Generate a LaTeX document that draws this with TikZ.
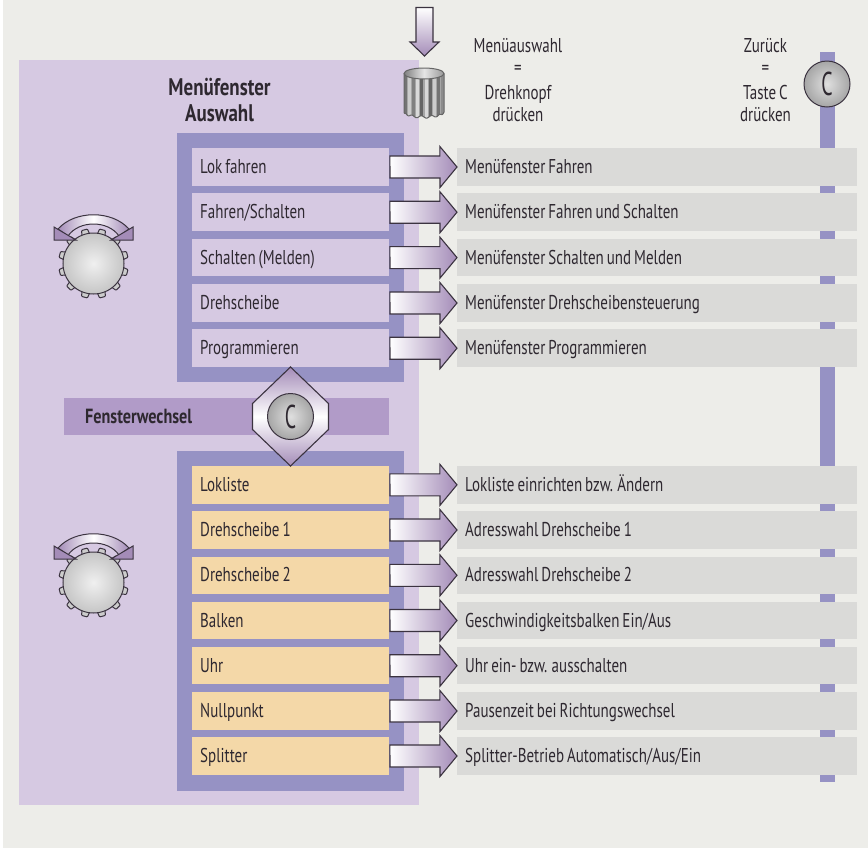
\documentclass[tikz,border=0pt]{standalone}
\usepackage{fontspec}
\setmainfont[FakeStretch=0.75,WordSpace=0.75,BoldFeatures={FakeStretch=0.79}]{PT Sans}
\newfontfamily\keyfont[FakeStretch=0.6]{PT Sans}
\usetikzlibrary{calc}
\definecolor{bgc}{HTML}{EDEDE9}
\definecolor{lilac}{HTML}{D6C9E2}
\definecolor{framec}{HTML}{9692C4}
\definecolor{orangec}{HTML}{F4D8A8}
\definecolor{greyc}{HTML}{DADAD8}
\definecolor{fwc}{HTML}{B19BC8}
\definecolor{inkc}{HTML}{2E2830}
\definecolor{linec}{HTML}{3B3340}
\definecolor{purc}{HTML}{A48CB8}
\tikzset{
  txt/.style={text=inkc,font=\fontsize{20}{22}\selectfont,inner sep=0pt},
  rowbox/.style={txt,anchor=west,inner xsep=8pt,inner ysep=0pt,align=flush left,minimum height=37.5pt,text height=15.5pt,text depth=2.5pt},
  itema/.style={rowbox,fill=lilac,text width=181pt},
  itemb/.style={rowbox,fill=orangec,text width=181pt},
  barbox/.style={rowbox,fill=greyc,text width=384pt},
  arrowbox/.style={draw=linec,line width=1.1pt,line join=miter,left color=white,right color=purc},
  keycirc/.style={circle,draw=linec,line width=1pt,minimum size=46pt,inner sep=0pt,inner color=gray!25!white,outer color=gray!70!white,text=inkc,font=\fontsize{33}{33}\keyfont},
  knobc/.style={draw=linec,line width=1pt,inner color=gray!12!white,outer color=gray!45!white},
  tooth/.style={draw=linec,line width=1pt,fill=gray!40!white,rounded corners=0.8pt},
  lbl/.style={txt,align=center,text height=15pt,text depth=2pt},
  eqlbl/.style={txt,align=center}
}
\newcommand{\rotknob}[2]{%
  \foreach \a in {15,45,...,345}{
    \draw[tooth]
      ({#1+29*cos(\a-8)},{#2-29*sin(\a-8)}) -- ({#1+35*cos(\a-5)},{#2-35*sin(\a-5)}) --
      ({#1+35*cos(\a+5)},{#2-35*sin(\a+5)}) -- ({#1+29*cos(\a+8)},{#2-29*sin(\a+8)}) -- cycle;
  }
  \draw[knobc] (#1,#2) circle[radius=30.5pt];
  \draw[line width=1pt,draw=linec,left color=purc,right color=purc,middle color=white,line join=round]
    (#1-35.5,#2-34.5) .. controls (#1-18.5,#2-53.5) and (#1+18.5,#2-53.5) .. (#1+35.5,#2-34.5)
    -- (#1+25.5,#2-27.5) .. controls (#1+14.5,#2-43.5) and (#1-14.5,#2-43.5) .. (#1-25.5,#2-27.5) -- cycle;
  \draw[line width=1pt,draw=linec,fill=purc,line join=miter]
    (#1-39.5,#2-36.5) -- (#1-39.5,#2-23.5) -- (#1-17.5,#2-23.5) -- cycle;
  \draw[line width=1pt,draw=linec,fill=purc,line join=miter]
    (#1+39.5,#2-36.5) -- (#1+39.5,#2-23.5) -- (#1+17.5,#2-23.5) -- cycle;
}
\begin{document}
\begin{tikzpicture}[x=1pt,y=-1pt]
\useasboundingbox (0,0) rectangle (868,849);
\fill[white] (0,0) rectangle (868,849);
\fill[bgc] (3.3,0) rectangle (868,848);
\fill[lilac] (18.5,60) rectangle (419,805);
\fill[framec] (177,133) rectangle (404,382);
\fill[framec] (177,451) rectangle (404,791);
\fill[framec] (820,52) rectangle (835,782);
% rows, upper
\foreach \n/\y/\a/\b in {
  a1/167/Lok fahren/Menüfenster Fahren,
  a2/212.2/Fahren\slash Schalten/Menüfenster Fahren und Schalten,
  a3/257.6/Schalten (Melden)/Menüfenster Schalten und Melden,
  a4/303/Drehscheibe/Menüfenster Drehscheibensteuerung,
  a5/348.2/Programmieren/Menüfenster Programmieren}{
  \node[itema] (\n) at (192,\y) {\a};
  \node[barbox] (b\n) at (457,\y) {\b};
  \draw[arrowbox] ($(\n.east)+(0.5,-11)$) -- ++(50,0) -- ++(0,-9.5) -- (b\n.west) -- ++(-17,20.5) -- ++(0,-9.5) -- ++(-50,0) -- cycle;
}
% rows, lower
\foreach \n/\y/\a/\b in {
  c1/484.8/Lokliste/Lokliste einrichten bzw. Ändern,
  c2/530/Drehscheibe 1/Adresswahl Drehscheibe 1,
  c3/575.3/Drehscheibe 2/Adresswahl Drehscheibe 2,
  c4/620.5/Balken/Geschwindigkeitsbalken Ein\slash Aus,
  c5/665.7/Uhr/Uhr ein- bzw. ausschalten,
  c6/711/Nullpunkt/Pausenzeit bei Richtungswechsel,
  c7/756/Splitter/Splitter-Betrieb Automatisch\slash Aus\slash Ein}{
  \node[itemb] (\n) at (192,\y) {\a};
  \node[barbox] (b\n) at (457,\y) {\b};
  \draw[arrowbox] ($(\n.east)+(0.5,-11)$) -- ++(50,0) -- ++(0,-9.5) -- (b\n.west) -- ++(-17,20.5) -- ++(0,-9.5) -- ++(-50,0) -- cycle;
}
% Fensterwechsel
\node[txt,font=\fontsize{20.5}{22}\selectfont\bfseries,fill=fwc,anchor=west,text width=325pt,align=flush left,minimum height=37.5pt,text height=15.5pt,text depth=2.5pt,inner sep=0pt] (fw) at (64,416.5) {\hspace*{21pt}Fensterwechsel};
\coordinate (hex) at (290.5,416.5);
\draw[draw=linec,line width=1.1pt,line join=miter,top color=purc,bottom color=purc,middle color=white]
  ($(hex)+(0,-49.5)$) -- ($(hex)+(38,-13)$) -- ($(hex)+(38,13)$) -- ($(hex)+(0,49.5)$) -- ($(hex)+(-38,13)$) -- ($(hex)+(-38,-13)$) -- cycle;
\node[keycirc] (ckey) at (hex) {C};
% heading
\node[eqlbl,font=\fontsize{24}{26}\selectfont\bfseries] (title) at (219.5,100) {Menüfenster\\Auswahl};
% Top C key
\node[keycirc] (zkey) at (827,84) {C};
% header labels
\node[lbl] (l1a) at (518,46) {Menüauswahl};
\node[eqlbl] (l1b) at (518,70) {=};
\node[lbl] (l1c) at (518,92.5) {Drehknopf};
\node[lbl] (l1d) at (518,115) {drücken};
\node[lbl] (l2a) at (765.5,46) {Zurück};
\node[eqlbl] (l2b) at (765.5,70) {=};
\node[lbl] (l2c) at (765.5,92.5) {Taste C};
\node[lbl] (l2d) at (765.5,115) {drücken};
% Down arrow
\draw[draw=linec,line width=1.1pt,line join=miter,top color=white,bottom color=purc]
  (416,7.5) -- (433,7.5) -- (433,42) -- (439,42) -- (424.5,56) -- (410,42) -- (416,42) -- cycle;
% Push knob
\begin{scope}
  \clip (404,73.5) -- plot[domain=180:360,samples=100] ({424+20*cos(\x)},{112-(5+1.2*sin(12*\x))*sin(\x)}) -- (444,73.5) -- cycle;
  \fill[black!35] (400,60) rectangle (446,125);
  \foreach \xa/\wa/\ca in {404/3/black!55,408/3/black!20,412/2.5/black!50,416/3/black!15,420/3/black!60,424.5/3/black!15,429/3/black!60,433/3/black!20,437/3/black!55,441/3/black!45}
    \fill[\ca] (\xa,60) rectangle ++(\wa,65);
\end{scope}
\draw[draw=black!60,line width=1pt] (404,73.5) -- plot[domain=180:360,samples=100] ({424+20*cos(\x)},{112-(5+1.2*sin(12*\x))*sin(\x)}) -- (444,73.5);
\draw[draw=black!60,line width=1pt,left color=black!50,right color=black!40,middle color=black!10] (424,73.5) ellipse[x radius=20pt,y radius=5.5pt];
% Rotary knobs
\rotknob{93.5}{263.5}
\rotknob{93.5}{582.5}
\end{tikzpicture}
\end{document}
